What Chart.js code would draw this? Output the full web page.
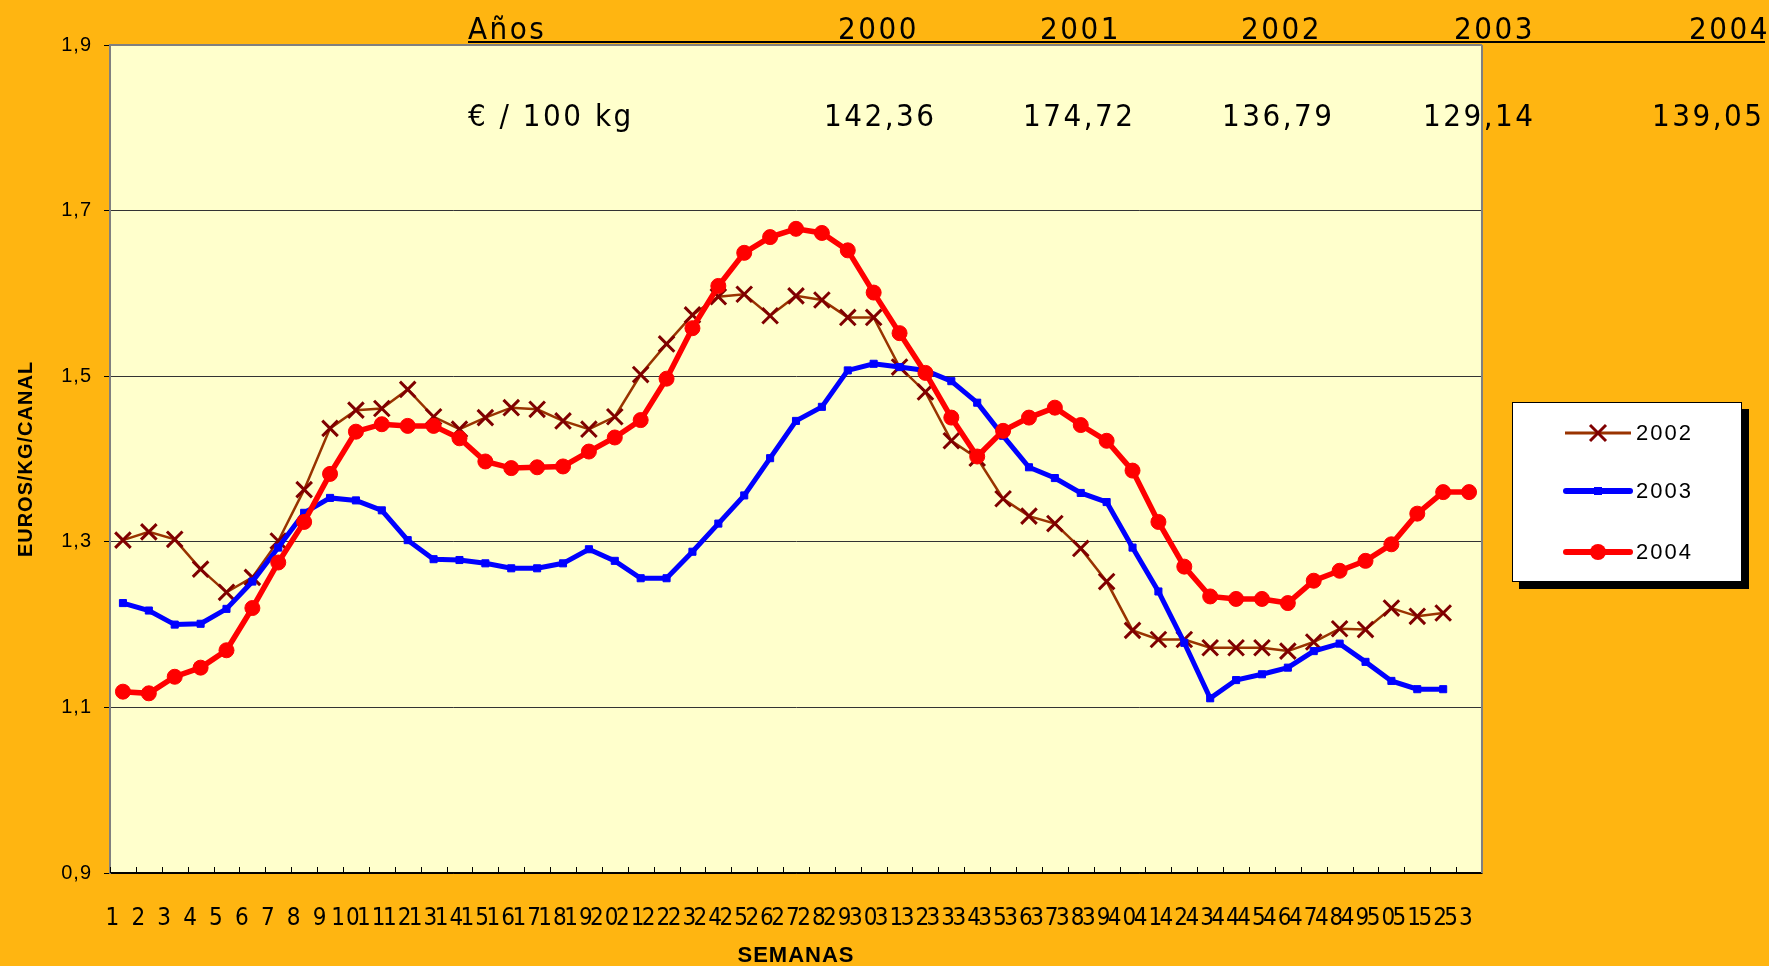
<!DOCTYPE html>
<html>
<head>
<meta charset="utf-8">
<script src="https://cdn.jsdelivr.net/npm/chart.js@4/dist/chart.umd.min.js"></script>
<style>
  html, body { margin:0; padding:0; background:#FFB511; overflow:hidden; }
  #wrap { position:relative; width:1769px; height:966px; background:#FFB511; }
  #c { position:absolute; left:0; top:0; }
  .hdr { position:absolute; font-family:"Liberation Sans Narrow","DejaVu Sans Condensed",sans-serif; font-size:31px; line-height:31px; letter-spacing:2.5px; color:#000; white-space:nowrap; z-index:2; }
  #uline { position:absolute; left:468px; top:41px; width:1297px; height:2px; background:#000; z-index:2; }
  #legend { position:absolute; left:1512px; top:402px; width:228px; height:178px; background:#fff; border:1px solid #000; box-shadow:7px 7px 0 #000; z-index:2; }
  .lrow { position:absolute; left:0; width:228px; height:30px; }
  .lrow svg { position:absolute; left:50px; top:3px; }
  .lrow span { position:absolute; left:123px; top:2px; font-family:"Liberation Sans",Arial,sans-serif; font-size:22px; line-height:26px; letter-spacing:2px; color:#000; }
</style>
</head>
<body>
<div id="wrap">
  <canvas id="c" width="1769" height="966"></canvas>
  <div id="uline"></div>
  <div id="legend"></div>
</div>
<script>
// ---- data ----
const weeks = ["1","2","3","4","5","6","7","8","9","10","11","12","13","14","15","16","17","18","19","20","21","22","23","24","25","26","27","28","29","30","31","32","33","34","35","36","37","38","39","40","41","42","43","44","45","46","47","48","49","50","51","52","53"];
const seriesNames = ["2002","2003","2004"];
const data2002 = [1.302,1.312,1.303,1.267,1.239,1.257,1.301,1.363,1.437,1.459,1.461,1.484,1.451,1.436,1.450,1.462,1.460,1.446,1.436,1.451,1.502,1.539,1.574,1.596,1.599,1.573,1.597,1.592,1.571,1.571,1.511,1.481,1.422,1.401,1.352,1.331,1.322,1.292,1.252,1.193,1.182,1.182,1.172,1.172,1.172,1.168,1.179,1.195,1.194,1.220,1.210,1.214];
const data2003 = [1.226,1.217,1.200,1.201,1.219,1.252,1.293,1.335,1.353,1.350,1.338,1.302,1.279,1.278,1.274,1.268,1.268,1.274,1.291,1.277,1.256,1.256,1.288,1.322,1.356,1.401,1.446,1.463,1.507,1.515,1.511,1.507,1.494,1.468,1.428,1.390,1.377,1.359,1.348,1.293,1.240,1.178,1.111,1.133,1.140,1.148,1.168,1.177,1.155,1.132,1.122,1.122];
const data2004 = [1.119,1.117,1.137,1.148,1.169,1.220,1.275,1.324,1.382,1.433,1.442,1.440,1.440,1.425,1.397,1.389,1.390,1.391,1.409,1.426,1.447,1.497,1.558,1.609,1.649,1.668,1.678,1.673,1.652,1.601,1.552,1.504,1.450,1.403,1.434,1.450,1.462,1.441,1.422,1.386,1.324,1.270,1.234,1.231,1.231,1.226,1.253,1.265,1.277,1.297,1.334,1.360,1.360];
const headerYearsLabel = "Años";
const headerYears = ["2000","2001","2002","2003","2004"];
const headerPriceLabel = "€ / 100 kg";
const headerPrices = ["142,36","174,72","136,79","129,14","139,05"];
const yTitle = "EUROS/KG/CANAL";
const xTitle = "SEMANAS";

// ---- header text (HTML) ----
const wrap = document.getElementById('wrap');
function addText(txt, left, top) {
  const d = document.createElement('div');
  d.className = 'hdr'; d.textContent = txt;
  d.style.left = left + 'px'; d.style.top = top + 'px';
  wrap.appendChild(d);
}
const yearLefts = [838, 1040, 1241, 1454, 1689];
const priceLefts = [824, 1023, 1222, 1423, 1652];
addText(headerYearsLabel, 468, 13);
headerYears.forEach((t, i) => addText(t, yearLefts[i], 13));
addText(headerPriceLabel, 468, 100);
headerPrices.forEach((t, i) => addText(t, priceLefts[i], 100));

// ---- legend (HTML) ----
const legendSamples = [
  '<svg width="70" height="24"><line x1="2" y1="12" x2="68" y2="12" stroke="#993300" stroke-width="3"/><line x1="27" y1="4" x2="43" y2="20" stroke="#800000" stroke-width="3"/><line x1="27" y1="20" x2="43" y2="4" stroke="#800000" stroke-width="3"/></svg>',
  '<svg width="70" height="24"><line x1="3" y1="12" x2="67" y2="12" stroke="#0000FF" stroke-width="6" stroke-linecap="round"/><rect x="31" y="8" width="8" height="8" fill="#0000FF"/></svg>',
  '<svg width="70" height="24"><line x1="3" y1="12" x2="67" y2="12" stroke="#FF0000" stroke-width="6" stroke-linecap="round"/><circle cx="35" cy="12" r="8" fill="#FF0000"/></svg>'
];
const legendTops = [15, 73, 134];
const legend = document.getElementById('legend');
seriesNames.forEach((n, i) => {
  const r = document.createElement('div');
  r.className = 'lrow'; r.style.top = legendTops[i] + 'px';
  r.innerHTML = legendSamples[i] + '<span></span>';
  r.querySelector('span').textContent = n;
  legend.appendChild(r);
});

// ---- chart ----
const bgPlugin = {
  id: 'bgPlugin',
  beforeDraw(chart) {
    const {ctx, chartArea: a} = chart;
    ctx.save();
    ctx.fillStyle = '#FFB511';
    ctx.fillRect(0, 0, chart.width, chart.height);
    ctx.fillStyle = '#FFFFCC';
    ctx.fillRect(a.left, a.top, a.right - a.left, a.bottom - a.top);
    ctx.restore();
    ctx.letterSpacing = '1px';
  },
  beforeDatasetsDraw(chart) {
    const {ctx, chartArea: a} = chart;
    const n = weeks.length;
    const w = (a.right - a.left) / n;
    ctx.save();
    ctx.strokeStyle = '#000';
    ctx.lineWidth = 1;
    ctx.beginPath();
    for (let i = 0; i <= n; i++) {
      const x = Math.round(a.left + i * w) + 0.5;
      ctx.moveTo(x, a.bottom);
      ctx.lineTo(x, a.bottom - 6);
    }
    ctx.stroke();
    ctx.restore();
  },
  afterDraw(chart) {
    const {ctx, chartArea: a} = chart;
    ctx.save();
    ctx.strokeStyle = '#808080';
    ctx.lineWidth = 2;
    ctx.beginPath();
    ctx.moveTo(a.left, a.top);
    ctx.lineTo(a.right, a.top);
    ctx.moveTo(a.right, a.top);
    ctx.lineTo(a.right, a.bottom);
    ctx.stroke();
    ctx.restore();
  }
};

new Chart(document.getElementById('c'), {
  type: 'line',
  data: {
    labels: weeks,
    datasets: [
      { label: seriesNames[0], data: data2002, borderColor: '#993300', borderWidth: 2.5,
        pointStyle: 'crossRot', pointRadius: 11, pointBorderColor: '#800000', pointBorderWidth: 3,
        pointBackgroundColor: '#800000', tension: 0, order: 3 },
      { label: seriesNames[1], data: data2003, borderColor: '#0000FF', borderWidth: 5,
        pointStyle: 'rect', pointRadius: 5, pointBorderColor: '#0000FF', pointBackgroundColor: '#0000FF',
        pointBorderWidth: 1, tension: 0, order: 2 },
      { label: seriesNames[2], data: data2004, borderColor: '#FF0000', borderWidth: 5.5,
        pointStyle: 'circle', pointRadius: 7.5, pointBorderColor: '#FF0000', pointBackgroundColor: '#FF0000',
        pointBorderWidth: 1, tension: 0, order: 1 }
    ]
  },
  options: {
    responsive: false,
    animation: false,
    devicePixelRatio: 1,
    layout: { padding: { left: 0, top: 45, right: 287, bottom: 0 } },
    plugins: { legend: { display: false }, tooltip: { enabled: false }, title: { display: false } },
    scales: {
      x: {
        type: 'category',
        offset: true,
        grid: { display: false, drawTicks: false },
        border: { display: true, color: '#000', width: 1.5 },
        ticks: { autoSkip: false, maxRotation: 0, minRotation: 0, padding: 31, labelOffset: -10,
                 color: '#000', font: { family: '"Liberation Sans Narrow", "DejaVu Sans Condensed", sans-serif', size: 24 } },
        title: { display: true, text: xTitle, color: '#000', padding: { top: 0, bottom: -3 },
                 font: { family: '"Liberation Sans", Arial, sans-serif', size: 22, weight: 'bold' } },
        afterFit(s) { s.height = 93; }
      },
      y: {
        min: 0.9, max: 1.9,
        grid: {
          color: c => (c.tick && Math.abs(c.tick.value - 1.9) < 1e-6) ? '#808080' : (c.tick && Math.abs(c.tick.value - 0.9) < 1e-6 ? '#000' : '#333'),
          lineWidth: 1, drawTicks: true, tickLength: 6, tickColor: '#000'
        },
        border: { display: true, color: '#808080', width: 2 },
        ticks: { stepSize: 0.2, padding: 12, color: '#000',
                 font: { family: '"Liberation Sans", Arial, sans-serif', size: 20 },
                 callback: v => v.toFixed(1).replace('.', ',') },
        title: { display: true, text: yTitle, color: '#000', padding: { top: 14, bottom: 0 },
                 font: { family: '"Liberation Sans", Arial, sans-serif', size: 20, weight: 'bold' } },
        afterFit(s) { s.width = 110; }
      }
    }
  },
  plugins: [bgPlugin]
});
</script>
</body>
</html>
